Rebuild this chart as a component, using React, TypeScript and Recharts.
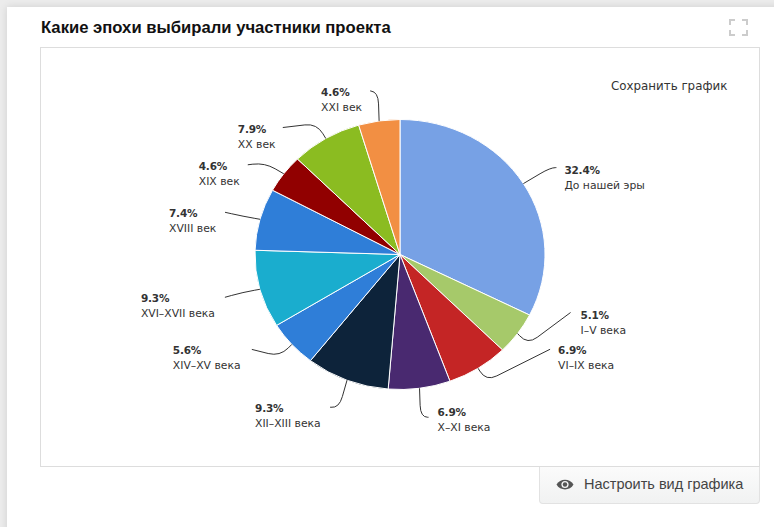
import { PieChart, Pie, Cell } from 'recharts'

const eras = ['До нашей эры', 'I–V века', 'VI–IX века', 'X–XI века', 'XII–XIII века', 'XIV–XV века', 'XVI–XVII века', 'XVIII век', 'XIX век', 'XX век', 'XXI век']
const shares = [32.4, 5.1, 6.9, 6.9, 9.3, 5.6, 9.3, 7.4, 4.6, 7.9, 4.6]
const colors = ['#77a1e5', '#a6c96a', '#c42525', '#492970', '#0d233a', '#2f7ed8', '#1aadce', '#2f7ed8', '#910000', '#8bbc21', '#f28f43']

// the source picture is squashed a bit vertically
const ySquash = 135 / 145

const data = eras.map((name, i) => ({ name, value: shares[i] }))

// label layout, relative to the point where the leader leaves the slice
// [corner dx, corner dy, end dx, end dy, text dx, text dy]
const leaders = [
  [27, -16, 33, -16, 41, -14],
  [10, 11, 53, -21, 63, -19],
  [8, 13, 72, -19, 80, -18],
  [1, 29, 9, 29, 18, 24],
  [-8, 28, -17, 27, -92, 28],
  [-12, 12, -40, 5, -119, 6],
  [-17, 3, -35, 8, -119, 9],
  [-17, -3, -35, -7, -91, -6],
  [-19, -11, -36, -9, -85, -8],
  [-9, -15, -43, -11, -88, -10],
  [-1, -29, -9, -30, -58, -29],
]

function squashedSector(props: any) {
  const { cx, cy, outerRadius, startAngle, endAngle, fill } = props
  const rx = outerRadius
  const ry = outerRadius * ySquash
  const toXY = (a: number) => {
    const r = (a * Math.PI) / 180
    return [cx + rx * Math.cos(r), cy - ry * Math.sin(r)]
  }
  const [x0, y0] = toXY(startAngle)
  const [x1, y1] = toXY(endAngle)
  const large = Math.abs(startAngle - endAngle) > 180 ? 1 : 0
  const d = `M${cx},${cy} L${x0},${y0} A${rx},${ry} 0 ${large} 1 ${x1},${y1} Z`
  return <path d={d} fill={fill} stroke="#fff" strokeWidth={1} />
}

function sliceLabel(props: any) {
  const { cx, cy, outerRadius, midAngle, index } = props
  const r = (midAngle * Math.PI) / 180
  const x = cx + outerRadius * Math.cos(r)
  const y = cy - outerRadius * ySquash * Math.sin(r)
  const [cdx, cdy, edx, edy, tdx, tdy] = leaders[index]
  // straight run, rounded corner (about 12px each side), straight run
  const inLen = Math.hypot(cdx, cdy)
  const outLen = Math.hypot(edx - cdx, edy - cdy)
  const inFrac = Math.min(12 / inLen, 0.8)
  const outFrac = Math.min(12 / outLen, 0.9)
  const inX = x + cdx * (1 - inFrac)
  const inY = y + cdy * (1 - inFrac)
  const outX = x + cdx + (edx - cdx) * outFrac
  const outY = y + cdy + (edy - cdy) * outFrac
  const leader = `M${x},${y} L${inX},${inY} Q${x + cdx},${y + cdy} ${outX},${outY} L${x + edx},${y + edy}`
  return (
    <g key={index}>
      <path d={leader} fill="none" stroke="#333" strokeWidth={1} />
      <text x={x + tdx} y={y + tdy + 4} fontFamily="'DejaVu Sans'" fontSize={10.5} fontWeight="bold" letterSpacing={-0.2} fill="#333" textAnchor="start">
        {shares[index].toFixed(1)}%
      </text>
      <text x={x + tdx} y={y + tdy + 19} fontFamily="'DejaVu Sans'" fontSize={10.8} fill="#333" textAnchor="start">
        {eras[index]}
      </text>
    </g>
  )
}

export default function App() {
  return (
    <div style={{ position: 'absolute', left: 0, top: 0, width: 774, height: 527, overflow: 'hidden', background: '#ececec' }}>
      <style>{'body{margin:0}'}</style>
      <div style={{ position: 'absolute', left: 7, top: 7, width: 800, height: 560, background: '#fff', boxShadow: '0 0 8px rgba(0,0,0,0.12)' }} />

      <div style={{ position: 'absolute', left: 41, top: 18, fontFamily: "'Liberation Sans'", fontWeight: 'bold', fontSize: 16.67, color: '#111', whiteSpace: 'nowrap' }}>
        Какие эпохи выбирали участники проекта
      </div>

      <svg style={{ position: 'absolute', left: 729, top: 19 }} width={20} height={18} fill="none" stroke="#ccc" strokeWidth={2}>
        <path d="M1,6 V1 H6 M13,1 H18 V6 M1,11 V16 H6 M13,16 H18 V11" />
      </svg>

      <div style={{ position: 'absolute', left: 40, top: 47, width: 720, height: 420, boxSizing: 'border-box', border: '1px solid #ddd', background: '#fff' }}>
        <div style={{ position: 'absolute', left: -1, top: -1 }}>
          <PieChart width={720} height={419} margin={{ top: 0, right: 0, bottom: 0, left: 0 }}>
            <Pie
              data={data}
              dataKey="value"
              nameKey="name"
              cx={360}
              cy={207.5}
              outerRadius={145}
              startAngle={90}
              endAngle={-270}
              isAnimationActive={false}
              shape={squashedSector}
              label={sliceLabel}
              labelLine={false}
            >
              {data.map((d, i) => (
                <Cell key={d.name} fill={colors[i]} />
              ))}
            </Pie>
          </PieChart>
        </div>
        <div style={{ position: 'absolute', left: 570, top: 31, fontFamily: "'DejaVu Sans'", fontSize: 11.85, color: '#333', whiteSpace: 'nowrap' }}>
          Сохранить график
        </div>
      </div>

      <div style={{ position: 'absolute', left: 539, top: 467, width: 221, height: 37, boxSizing: 'border-box', border: '1px solid #e2e2e2', borderTop: 'none', borderRadius: '0 0 4px 4px', background: 'linear-gradient(#fbfbfb,#f1f2f2)' }}>
        <svg style={{ position: 'absolute', left: 16, top: 11 }} width={18} height={13} viewBox="0 0 18 13">
          <path d="M0.5,6.5 C4,0 14,0 17.5,6.5 C14,13 4,13 0.5,6.5 Z" fill="#555" />
          <circle cx={9} cy={6.5} r={3.6} fill="#f5f5f5" />
          <circle cx={9} cy={6.5} r={2.2} fill="#555" />
        </svg>
        <div style={{ position: 'absolute', left: 44, top: 9, fontFamily: "'Liberation Sans'", fontSize: 14.5, color: '#444', whiteSpace: 'nowrap' }}>
          Настроить вид графика
        </div>
      </div>
    </div>
  )
}
